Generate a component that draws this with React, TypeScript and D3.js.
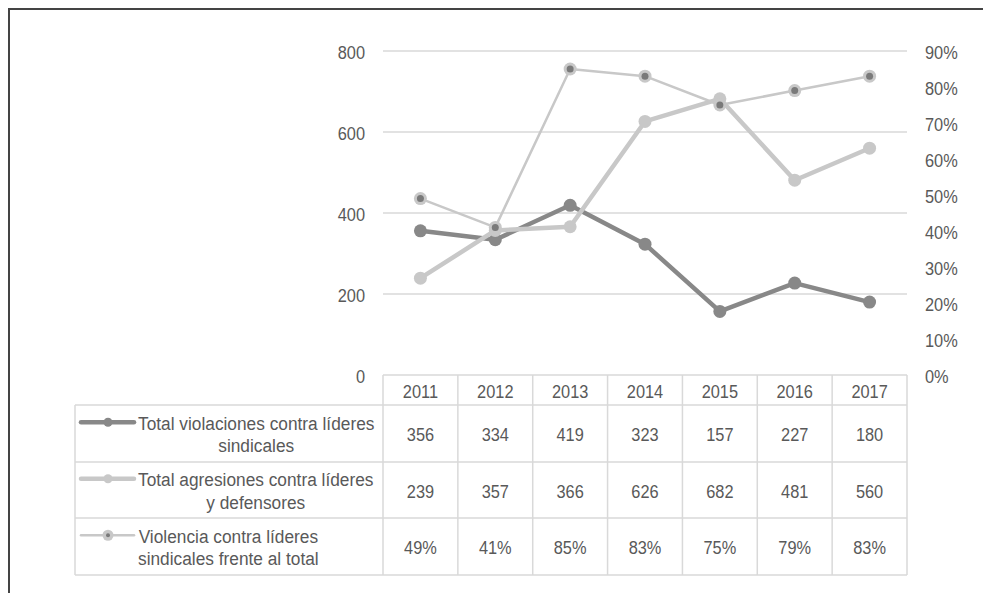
import React, { useEffect, useRef } from "react";
import * as d3 from "d3";

const years = ["2011", "2012", "2013", "2014", "2015", "2016", "2017"];
const violaciones = [356, 334, 419, 323, 157, 227, 180];
const agresiones = [239, 357, 366, 626, 682, 481, 560];
const violenciaPct = [0.49, 0.41, 0.85, 0.83, 0.75, 0.79, 0.83];
const leftTicks = [0, 200, 400, 600, 800];
const rightTicks = [0, 0.1, 0.2, 0.3, 0.4, 0.5, 0.6, 0.7, 0.8, 0.9];

const seriesLabels = [
  ["Total violaciones contra líderes", "sindicales"],
  ["Total agresiones contra líderes", "y defensores"],
  ["Violencia contra líderes", "sindicales frente al total"],
];

const FONT = "'Liberation Sans', Arial, sans-serif";
const FONT_SIZE = 18.6;
const NUM_SX = 0.88; // narrow face for numbers
const LBL_SX = 0.93; // narrow face for legend labels
const TEXT = "#595959";
const GRID = "#d9d9d9";
const DARK = "#888888";
const LIGHT = "#c8c8c8";

export default function App() {
  const ref = useRef<SVGSVGElement | null>(null);

  useEffect(() => {
    const svg = d3.select(ref.current);
    svg.selectAll("*").remove();
    const g = svg.append("g");

    const plotL = 383, plotR = 907, plotT = 51, plotB = 375;
    const x = d3.scaleBand<string>().domain(years).range([plotL, plotR]);
    const yL = d3.scaleLinear().domain([0, 800]).range([plotB, plotT]);
    const yR = d3.scaleLinear().domain([0, 0.9]).range([plotB, plotT]);
    const cx = (d: string) => (x(d) as number) + x.bandwidth() / 2;

    // condensed text placed at (tx, ty)
    const label = (
      parent: any,
      tx: number,
      ty: number,
      str: string,
      anchor: string,
      sx: number
    ) =>
      parent
        .append("text")
        .attr("transform", `translate(${tx},${ty}) scale(${sx},1)`)
        .attr("dy", "0.35em")
        .attr("text-anchor", anchor)
        .attr("font-family", FONT)
        .attr("font-size", FONT_SIZE)
        .attr("fill", TEXT)
        .text(str);

    // frame
    g.append("path")
      .attr("d", "M9,600 L9,9 L990,9")
      .attr("fill", "none")
      .attr("stroke", "#444")
      .attr("stroke-width", 2);

    // gridlines
    g.selectAll(".grid")
      .data(leftTicks.filter((t) => t > 0))
      .join("line")
      .attr("x1", plotL)
      .attr("x2", plotR)
      .attr("y1", (d) => yL(d))
      .attr("y2", (d) => yL(d))
      .attr("stroke", GRID)
      .attr("stroke-width", 1.5);

    // axis labels
    leftTicks.forEach((t) => label(g, 365, yL(t) + 1, d3.format("d")(t), "end", NUM_SX));
    rightTicks.forEach((t) => label(g, 925, yR(t) + 1, d3.format(".0%")(t), "start", NUM_SX));

    // data table
    const tableL = 75;
    const rowEdges = [375, 405, 462, 518, 575];
    const tbl = g.append("g").attr("stroke", GRID).attr("stroke-width", 1.5).attr("fill", "none");
    tbl.append("line").attr("x1", plotL).attr("x2", plotR).attr("y1", rowEdges[0]).attr("y2", rowEdges[0]);
    rowEdges.slice(1).forEach((ry) => {
      tbl.append("line").attr("x1", tableL).attr("x2", plotR).attr("y1", ry).attr("y2", ry);
    });
    tbl.append("line").attr("x1", tableL).attr("x2", tableL).attr("y1", rowEdges[1]).attr("y2", rowEdges[4]);
    [...years.map((y) => x(y) as number), plotR].forEach((vx) => {
      tbl.append("line").attr("x1", vx).attr("x2", vx).attr("y1", rowEdges[0]).attr("y2", rowEdges[4]);
    });

    years.forEach((yr) => label(g, cx(yr), (rowEdges[0] + rowEdges[1]) / 2 + 1, yr, "middle", NUM_SX));

    const rows: string[][] = [
      violaciones.map((v) => String(v)),
      agresiones.map((v) => String(v)),
      violenciaPct.map((v) => d3.format(".0%")(v)),
    ];
    rows.forEach((vals, ri) => {
      const my = (rowEdges[ri + 1] + rowEdges[ri + 2]) / 2 + 1;
      vals.forEach((v, i) => label(g, cx(years[i]), my, v, "middle", NUM_SX));
    });

    // legend keys + labels
    const keyX1 = 81, keyX2 = 134, keyMid = 108, labelX = 138;
    seriesLabels.forEach((lines, ri) => {
      const top = rowEdges[ri + 1];
      const bottom = rowEdges[ri + 2];
      const lh = 22.5;
      const firstY = (top + bottom) / 2 - lh / 2;
      const kg = g.append("g");
      if (ri === 0) {
        kg.append("line").attr("x1", keyX1).attr("x2", keyX2).attr("y1", firstY).attr("y2", firstY)
          .attr("stroke", DARK).attr("stroke-width", 4.5).attr("stroke-linecap", "round");
        kg.append("circle").attr("cx", keyMid).attr("cy", firstY).attr("r", 4.5).attr("fill", DARK);
      } else if (ri === 1) {
        kg.append("line").attr("x1", keyX1).attr("x2", keyX2).attr("y1", firstY).attr("y2", firstY)
          .attr("stroke", LIGHT).attr("stroke-width", 4.5).attr("stroke-linecap", "round");
        kg.append("circle").attr("cx", keyMid).attr("cy", firstY).attr("r", 4.5).attr("fill", LIGHT);
      } else {
        kg.append("line").attr("x1", keyX1).attr("x2", keyX2).attr("y1", firstY).attr("y2", firstY)
          .attr("stroke", LIGHT).attr("stroke-width", 2.5).attr("stroke-linecap", "round");
        kg.append("circle").attr("cx", keyMid).attr("cy", firstY).attr("r", 5.5).attr("fill", LIGHT);
        kg.append("circle").attr("cx", keyMid).attr("cy", firstY).attr("r", 2).attr("fill", "#7a7a7a");
      }
      const texts = lines.map((ln, li) => label(g, 0, firstY + li * lh + 1, ln, "middle", LBL_SX));
      const widths = texts.map((t: any) => (t.node() as SVGTextElement).getComputedTextLength() * LBL_SX);
      const center = labelX + Math.max(...widths) / 2;
      texts.forEach((t: any, li: number) =>
        t.attr("transform", `translate(${center},${firstY + li * lh + 1}) scale(${LBL_SX},1)`)
      );
    });

    // series lines and markers
    const lineL = d3.line<number>().x((_d, i) => cx(years[i])).y((d) => yL(d));
    const lineR = d3.line<number>().x((_d, i) => cx(years[i])).y((d) => yR(d));

    g.append("path").datum(violaciones).attr("d", lineL).attr("fill", "none")
      .attr("stroke", DARK).attr("stroke-width", 4.5).attr("stroke-linejoin", "round");
    g.selectAll(".m1").data(violaciones).join("circle")
      .attr("cx", (_d, i) => cx(years[i])).attr("cy", (d) => yL(d)).attr("r", 6.5).attr("fill", DARK);

    g.append("path").datum(agresiones).attr("d", lineL).attr("fill", "none")
      .attr("stroke", LIGHT).attr("stroke-width", 4.5).attr("stroke-linejoin", "round");
    g.selectAll(".m2").data(agresiones).join("circle")
      .attr("cx", (_d, i) => cx(years[i])).attr("cy", (d) => yL(d)).attr("r", 6.5).attr("fill", LIGHT);

    g.append("path").datum(violenciaPct).attr("d", lineR).attr("fill", "none")
      .attr("stroke", LIGHT).attr("stroke-width", 2.5).attr("stroke-linejoin", "round");
    g.selectAll(".m3o").data(violenciaPct).join("circle")
      .attr("cx", (_d, i) => cx(years[i])).attr("cy", (d) => yR(d)).attr("r", 6.5).attr("fill", LIGHT);
    g.selectAll(".m3i").data(violenciaPct).join("circle")
      .attr("cx", (_d, i) => cx(years[i])).attr("cy", (d) => yR(d)).attr("r", 3.5).attr("fill", "#7a7a7a");
  }, []);

  return (
    <svg
      ref={ref}
      width={983}
      height={593}
      style={{ position: "absolute", left: 0, top: 0, display: "block", background: "#fff" }}
    />
  );
}
